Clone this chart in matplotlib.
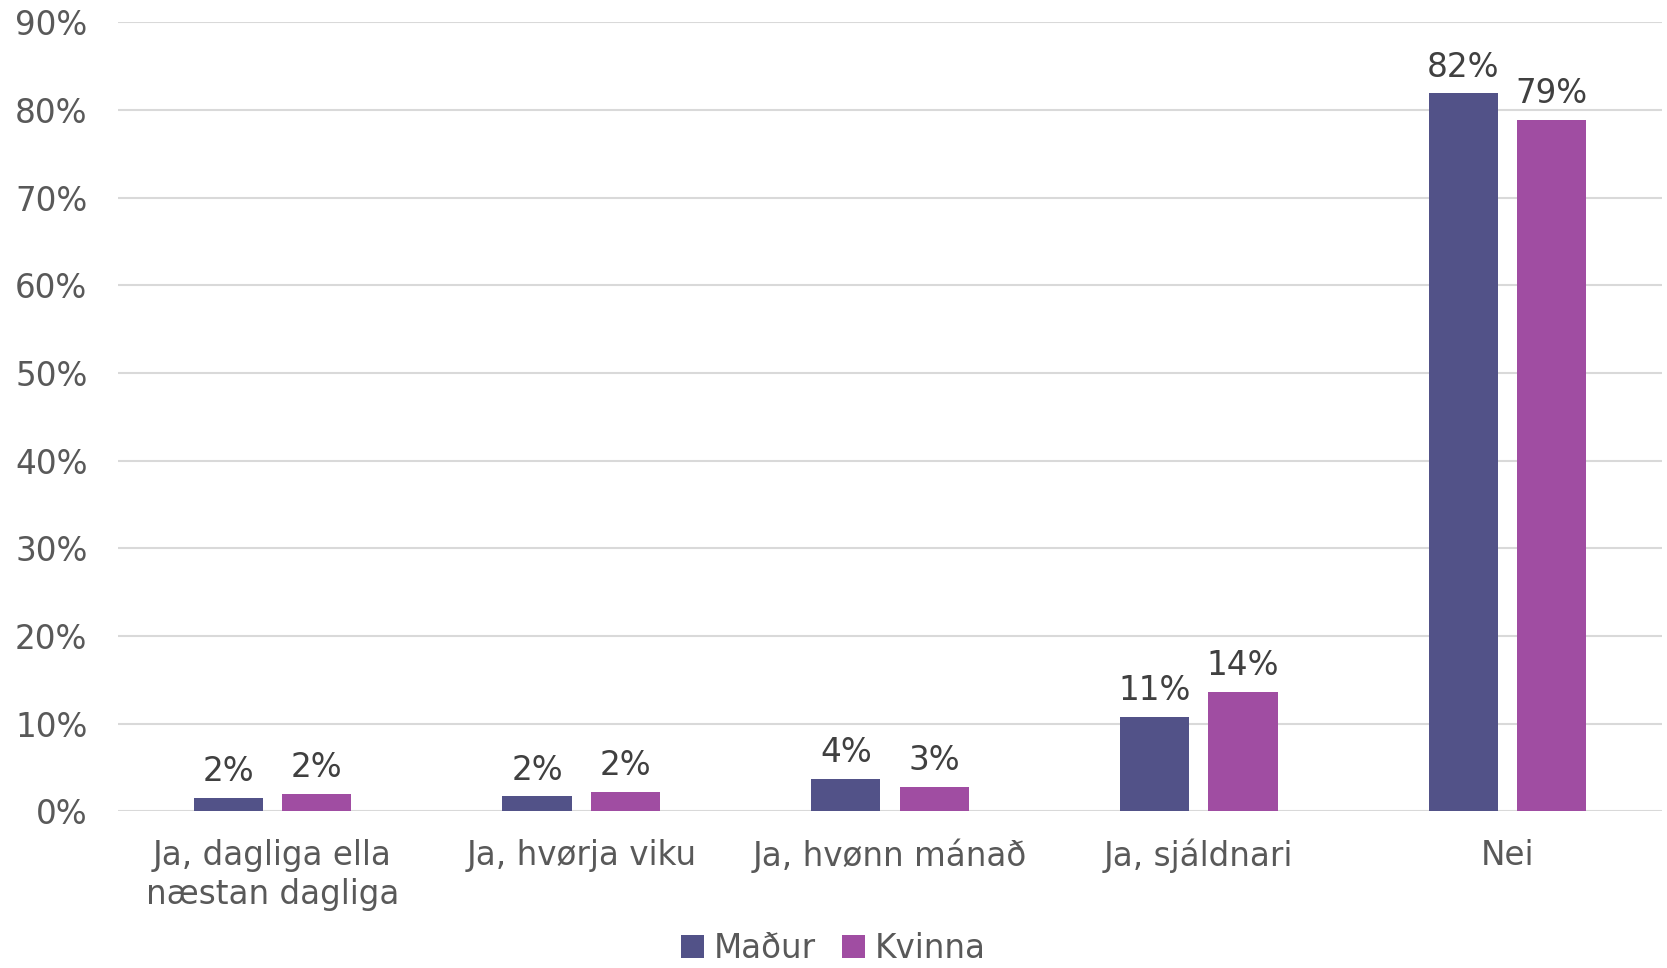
import matplotlib.pyplot as plt
import numpy as np
from matplotlib.patches import Patch

# survey answers (Faroese)
categories = ["Ja, dagliga ella\nnæstan dagliga", "Ja, hvørja viku",
              "Ja, hvønn mánað", "Ja, sjáldnari", "Nei"]
madur = [1.5, 1.7, 3.7, 10.8, 81.9]
kvinna = [2.0, 2.2, 2.8, 13.6, 78.9]
series_names = ["Maður", "Kvinna"]
yticks = [0, 10, 20, 30, 40, 50, 60, 70, 80, 90]

COL_M = "#525288"
COL_K = "#A04DA2"
TXT = "#595959"
FS = 23.5

fig = plt.figure(figsize=(16.67, 9.68), dpi=100)
ax = fig.add_axes([0.0708, 0.162, 0.9262, 0.815])

x = np.arange(len(categories))
w = 0.224
off = 0.143
b1 = ax.bar(x - off, madur, w, color=COL_M, zorder=3)
b2 = ax.bar(x + off, kvinna, w, color=COL_K, zorder=3)

for bars, vals in ((b1, madur), (b2, kvinna)):
    for rect, v in zip(bars, vals):
        ax.annotate(f"{v:.0f}%", (rect.get_x() + rect.get_width() / 2, v),
                    xytext=(0, 7), textcoords="offset points",
                    ha="center", va="bottom", fontsize=FS, color="#404040")

ax.set_xlim(-0.5, len(categories) - 0.5)
ax.set_ylim(0, 90)
ax.set_yticks(yticks)
ax.set_yticklabels([f"{t}%" for t in yticks])
ax.set_xticks(x)
ax.set_xticklabels(categories, linespacing=1.25)
ax.tick_params(axis="both", length=0, labelsize=FS, colors=TXT)
ax.tick_params(axis="y", pad=22)
ax.tick_params(axis="x", pad=20)

ax.grid(axis="y", color="#d9d9d9", linewidth=1.5, zorder=0)
for s in ax.spines.values():
    s.set_visible(False)

handles = [Patch(facecolor=COL_M), Patch(facecolor=COL_K)]
fig.legend(handles, series_names, loc="center", bbox_to_anchor=(0.5, 0.02),
           ncol=2, frameon=False, fontsize=FS, handlelength=0.7, handleheight=0.7,
           handletextpad=0.3, columnspacing=0.8, labelcolor=TXT, borderpad=0.1)

fig.savefig("out.png", dpi=100)
